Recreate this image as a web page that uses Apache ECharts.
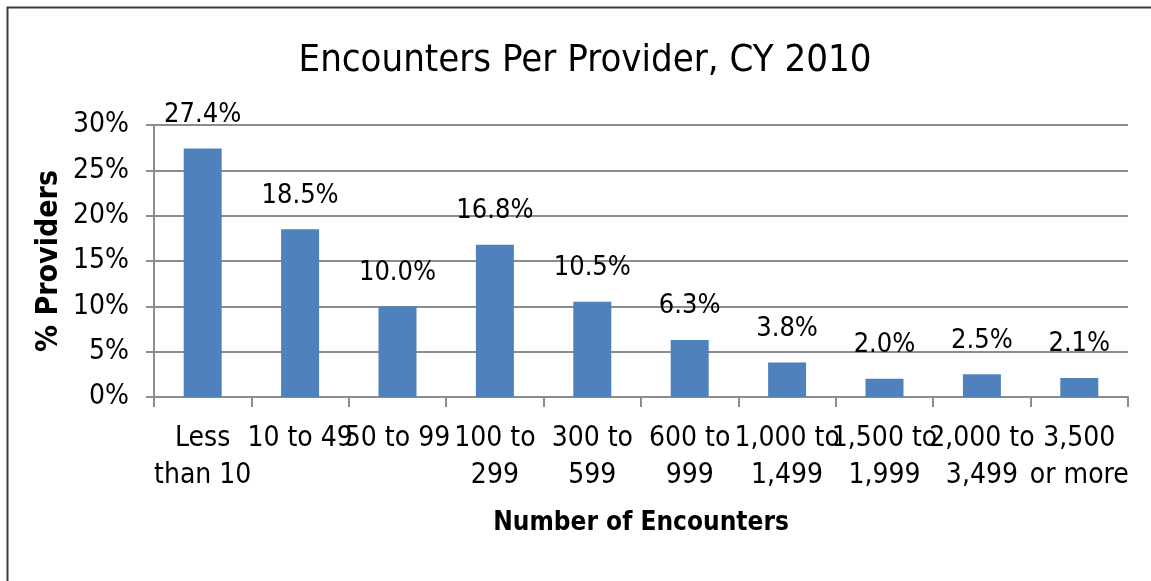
<!DOCTYPE html>
<html>
<head>
<meta charset="utf-8">
<style>
  html, body { margin: 0; padding: 0; background: #fff; }
  #chart { width: 1151px; height: 581px; }
</style>
<script src="https://cdn.jsdelivr.net/npm/echarts@6/dist/echarts.min.js"></script>
</head>
<body>
<div id="chart"></div>
<script>
const categories = ["Less\nthan 10", "10 to 49", "50 to 99", "100 to\n299", "300 to\n599", "600 to\n999", "1,000 to\n1,499", "1,500 to\n1,999", "2,000 to\n3,499", "3,500\nor more"];
const percentProviders = [27.4, 18.5, 10.0, 16.8, 10.5, 6.3, 3.8, 2.0, 2.5, 2.1];
const yTicks = { min: 0, max: 30, interval: 5 };
const titleText = "Encounters Per Provider, CY 2010";
const xName = "Number of Encounters";
const yName = "% Providers";

const FONT = '"Liberation Sans Narrow", "Arial Narrow", "DejaVu Sans Condensed", sans-serif';
const chart = echarts.init(document.getElementById('chart'), null, { renderer: 'canvas' });
chart.setOption({
  backgroundColor: '#fff',
  animation: false,
  textStyle: { fontFamily: FONT },
  graphic: [{
    type: 'rect', left: 5, top: 5, z: -1,
    shape: { width: 1300, height: 700 },
    style: { fill: 'none', stroke: '#3a3a3a', lineWidth: 2 }
  }],
  title: {
    text: titleText, left: 580, textAlign: 'center', top: 37,
    textStyle: { fontFamily: FONT, fontSize: 38, fontWeight: 'normal', color: '#000' }
  },
  grid: { left: 154, right: 23, top: 125, bottom: 184 },
  xAxis: {
    type: 'category', data: categories,
    name: xName, nameLocation: 'middle', nameGap: 113, nameMoveOverlap: false,
    nameTextStyle: { fontFamily: FONT, fontSize: 26, fontWeight: 'bold', color: '#000' },
    axisLine: { lineStyle: { color: '#8c8c8c', width: 2 } },
    axisTick: { show: true, alignWithLabel: false, length: 10, lineStyle: { color: '#8c8c8c', width: 2 } },
    axisLabel: { interval: 0, hideOverlap: false, margin: 23, fontFamily: FONT, fontSize: 28, lineHeight: 37, color: '#000' }
  },
  yAxis: {
    type: 'value', min: yTicks.min, max: yTicks.max, interval: yTicks.interval,
    name: yName, nameLocation: 'middle', nameGap: 90, nameRotate: 90, nameMoveOverlap: false,
    nameTextStyle: { fontFamily: FONT, fontSize: 30, fontWeight: 'bold', color: '#000' },
    axisLine: { show: true, lineStyle: { color: '#8c8c8c', width: 2 } },
    axisTick: { show: true, length: 8, lineStyle: { color: '#8c8c8c', width: 2 } },
    splitLine: { lineStyle: { color: '#8c8c8c', width: 2 } },
    axisLabel: { formatter: '{value}%', margin: 25, fontFamily: FONT, fontSize: 28, color: '#000' }
  },
  series: [{
    type: 'bar', data: percentProviders, barWidth: '39%',
    itemStyle: { color: '#4f81bd' },
    label: {
      show: true, position: 'top', distance: 20,
      formatter: p => p.value.toFixed(1) + '%',
      fontFamily: FONT, fontSize: 27, color: '#000'
    }
  }]
});
</script>
</body>
</html>
